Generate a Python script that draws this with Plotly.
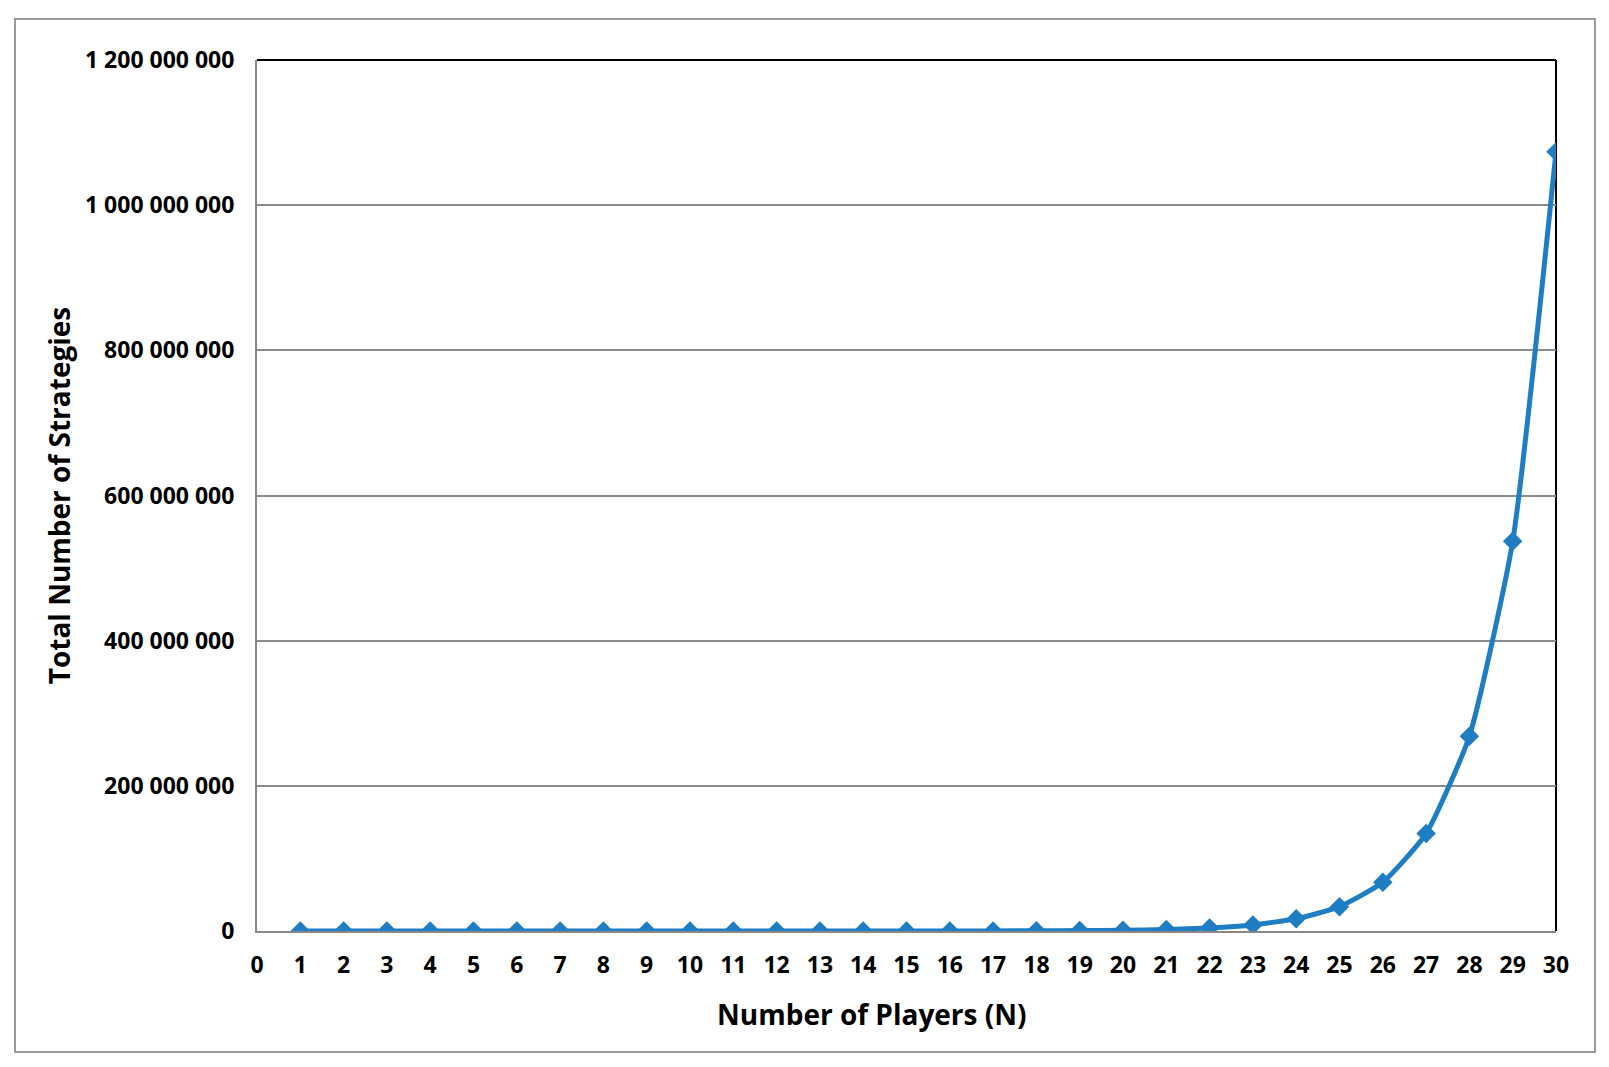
import plotly.graph_objects as go

# Number of players and total strategies
players = list(range(1, 31))
strategies = [
    2, 4, 8, 16, 32, 64, 128, 256, 512, 1024,
    2048, 4096, 8192, 16384, 32768, 65536, 131072, 262144, 524288, 1048576,
    2097152, 4194304, 8388608, 16777216, 33554432, 67108864, 134217728,
    268435456, 536870912, 1073741824,
]
x_ticks = list(range(0, 31))
y_ticks = [0, 200000000, 400000000, 600000000, 800000000, 1000000000, 1200000000]

font_family = "Open Sans"
blue = "#1F7DC4"

fig = go.Figure()

fig.add_trace(go.Scatter(
    x=players, y=strategies,
    mode="lines+markers",
    line=dict(color=blue, width=5, shape="spline", smoothing=0.5),
    marker=dict(symbol="diamond", size=15, color=blue),
    showlegend=False,
))

fig.update_layout(
    width=1609, height=1067,
    margin=dict(l=249, r=61, t=52, b=144),
    plot_bgcolor="white", paper_bgcolor="white",
    separators=". ",
    font=dict(family=font_family, color="black"),
    xaxis=dict(
        range=[0, 30], tickvals=x_ticks, ticks="",
        showgrid=False, zeroline=False,
        showline=True, linecolor="#888888", linewidth=2,
        tickfont=dict(size=23, family=font_family, weight="bold"),
        ticklabelstandoff=12,
    ),
    yaxis=dict(
        range=[0, 1200000000], tickvals=y_ticks, tickformat=",d", ticks="",
        showgrid=True, gridcolor="#8C8C8C", gridwidth=1.5,
        zeroline=False,
        showline=True, linecolor="#888888", linewidth=2,
        tickfont=dict(size=23, family=font_family, weight="bold"),
        ticklabelstandoff=16,
        title=dict(text="<b>Total Number of Strategies</b>", font=dict(size=28), standoff=6),
    ),
    annotations=[
        # x axis title sits a little left of the plot centre
        dict(text="<b>Number of Players (N)</b>", xref="paper", yref="paper",
             x=0.4736, y=-0.0954, xanchor="center", yanchor="middle",
             showarrow=False, font=dict(size=28)),
    ],
    shapes=[
        # top and right frame of the plot area
        dict(type="line", xref="paper", yref="paper", x0=0, y0=1, x1=1, y1=1,
             line=dict(color="black", width=2)),
        dict(type="line", xref="paper", yref="paper", x0=1, y0=0, x1=1, y1=1,
             line=dict(color="black", width=2), layer="below"),
        # outer chart border
        dict(type="rect", xref="paper", yref="paper",
             x0=-0.1863, y0=-0.139, x1=1.030, y1=1.047,
             line=dict(color="#9A9A9A", width=2)),
    ],
)

fig.write_html("out.html")
